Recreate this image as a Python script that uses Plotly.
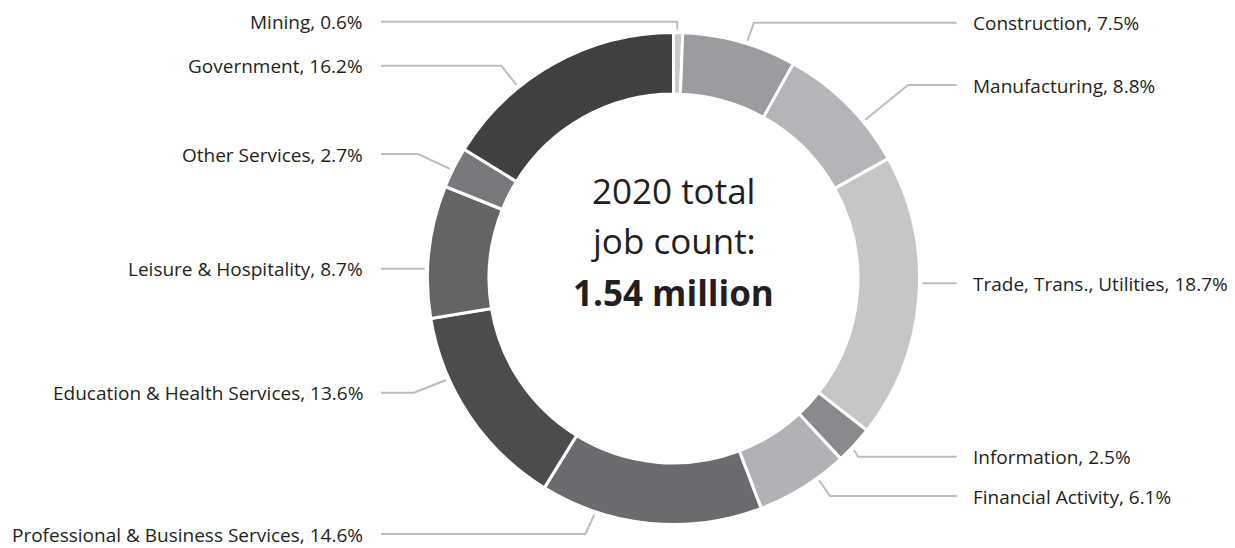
import math
import plotly.graph_objects as go

# Share of 2020 employment by sector, clockwise from 12 o'clock
sectors = [
    "Mining",
    "Construction",
    "Manufacturing",
    "Trade, Trans., Utilities",
    "Information",
    "Financial Activity",
    "Professional & Business Services",
    "Education & Health Services",
    "Leisure & Hospitality",
    "Other Services",
    "Government",
]
shares = [0.6, 7.5, 8.8, 18.7, 2.5, 6.1, 14.6, 13.6, 8.7, 2.7, 16.2]
slice_colors = [
    "#c9cacc", "#9b9c9f", "#b4b5b8", "#c5c6c8", "#898a8d", "#b1b2b5",
    "#6a6b6f", "#4b4c4e", "#636466", "#77787b", "#404041",
]
center_lines = ["2020 total", "job count:", "<b>1.54 million</b>"]

# ---- canvas / ring geometry (pixels) ----
W, H = 1235, 548
CX, CY, R = 673.5, 278.5, 246.0
HOLE = 0.75
GAP = 3

# ---- label placement: side, text row y, elbow x, where the leader meets the slice ----
# row y None -> the leader runs straight out from the slice; elbow None -> elbow above/below the anchor
label_layout = [
    ("left", 21.7, None, 0.40),
    ("right", 22.7, 754.0, 0.56),
    ("right", 85.0, 908.0, 0.67),
    ("right", None, None, 0.449),
    ("right", 456.7, 858.0, 0.60),
    ("right", 496.0, 830.0, 0.32),
    ("left", 534.0, 585.4, 0.75),
    ("left", 392.7, 414.0, 0.70),
    ("left", None, None, 0.37),
    ("left", 154.0, 418.2, 0.43),
    ("left", 65.7, 501.4, 0.33),
]
LEFT_LINE_END, RIGHT_LINE_END = 381.0, 956.7
LEFT_TEXT_X, RIGHT_TEXT_X = 364.5, 970.7
TEXT_DY = 0.5
ANCHOR_R = 249.0
FONT = "Open Sans"
LABEL_SIZE = 19
TEXT_COLOR = "#231f20"
LEADER_COLOR = "#bcbec0"


def px(x):
    return x / W


def py(y):
    return 1 - y / H


fig = go.Figure(
    go.Pie(
        labels=sectors,
        values=shares,
        sort=False,
        direction="clockwise",
        rotation=0,
        hole=HOLE,
        textinfo="none",
        hoverinfo="label+percent",
        marker=dict(colors=slice_colors, line=dict(color="white", width=GAP)),
        domain=dict(
            x=[px(CX - R - 60), px(CX + R + 60)],
            y=[py(CY + R), py(CY - R)],
        ),
        showlegend=False,
    )
)

total = sum(shares)
shapes = []
annotations = []
start = 0.0
for name, val, (side, row_y, elbow_x, frac) in zip(sectors, shares, label_layout):
    a0 = start / total * 360
    a1 = (start + val) / total * 360
    start += val
    ang = math.radians(a0 + (a1 - a0) * frac)
    ax = CX + ANCHOR_R * math.sin(ang)
    ay = CY - ANCHOR_R * math.cos(ang)
    ry = ay if row_y is None else row_y
    ex = ax if elbow_x is None else elbow_x
    end_x = LEFT_LINE_END if side == "left" else RIGHT_LINE_END
    path = (
        f"M {px(ax)} {py(ay)} L {px(ex)} {py(ry)} L {px(end_x)} {py(ry)}"
    )
    shapes.append(
        dict(
            type="path",
            xref="paper",
            yref="paper",
            path=path,
            line=dict(color=LEADER_COLOR, width=2),
            layer="below",
        )
    )
    annotations.append(
        dict(
            text=f"{name}, {val}%",
            xref="paper",
            yref="paper",
            x=px(LEFT_TEXT_X if side == "left" else RIGHT_TEXT_X),
            y=py(ry + TEXT_DY),
            xanchor="right" if side == "left" else "left",
            yanchor="middle",
            showarrow=False,
            font=dict(family=FONT, size=LABEL_SIZE, color=TEXT_COLOR),
        )
    )

# centre caption
for line, y in zip(center_lines, [191, 240, 292]):
    annotations.append(
        dict(
            text=line,
            xref="paper",
            yref="paper",
            x=px(CX),
            y=py(y),
            xanchor="center",
            yanchor="middle",
            showarrow=False,
            font=dict(family=FONT, size=35, color=TEXT_COLOR),
        )
    )

fig.update_layout(
    width=W,
    height=H,
    margin=dict(l=0, r=0, t=0, b=0),
    paper_bgcolor="white",
    plot_bgcolor="white",
    shapes=shapes,
    annotations=annotations,
)

fig.write_html("out.html", include_plotlyjs=True, config={"displayModeBar": False})
